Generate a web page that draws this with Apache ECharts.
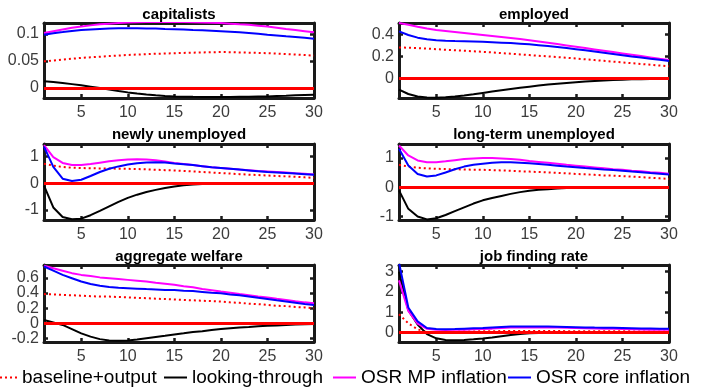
<!DOCTYPE html>
<html>
<head>
<meta charset="utf-8">
<script src="https://cdn.jsdelivr.net/npm/echarts@6/dist/echarts.min.js"></script>
<style>html,body{margin:0;padding:0;background:#fff;}#c{width:703px;height:388px;}</style>
</head>
<body>
<div id="c"></div>
<script>
// ---------- DATA ----------
const periods = [1,2,3,4,5,6,7,8,9,10,11,12,13,14,15,16,17,18,19,20,21,22,23,24,25,26,27,28,29,30];
const xTickLabels = [5,10,15,20,25,30];
const seriesNames = ['baseline+output','looking-through','OSR MP inflation','OSR core inflation'];
const panelTitles = ['capitalists','employed','newly unemployed','long-term unemployed','aggregate welfare','job finding rate'];
const zeroLevel = 0;

// y tick labels per panel
const capTicks = [0, 0.05, 0.1];
const empTicks = [0, 0.2, 0.4];
const newTicks = [-1, 0, 1];
const ltuTicks = [-1, 0, 1];
const welTicks = [-0.2, 0, 0.2, 0.4, 0.6];
const jfrTicks = [0, 1, 2, 3];

// y ranges per panel
const capRange = [-0.0185, 0.1204];
const empRange = [-0.176, 0.5];
const newRange = [-1.38, 1.47];
const ltuRange = [-1.12, 1.47];
const welRange = [-0.248, 0.772];
const jfrRange = [-0.47, 3.33];

// capitalists
const capBaseline = [0.0494,0.0510,0.0526,0.0542,0.0558,0.0569,0.0580,0.0591,0.0601,0.0612,0.0620,0.0627,0.0634,0.0639,0.0644,0.0650,0.0655,0.0659,0.0663,0.0666,0.0664,0.0659,0.0655,0.0650,0.0644,0.0637,0.0628,0.0620,0.0610,0.0601];
const capLooking  = [0.0124,0.0110,0.0092,0.0072,0.0049,0.0025,0.0,-0.0028,-0.0055,-0.0081,-0.0101,-0.0119,-0.0135,-0.0146,-0.0155,-0.0160,-0.0163,-0.0165,-0.0166,-0.0166,-0.0165,-0.0163,-0.0161,-0.0158,-0.0155,-0.0149,-0.0143,-0.0136,-0.0130,-0.0124];
const capOsrMp    = [0.1020,0.1053,0.1085,0.1117,0.1138,0.1160,0.1181,0.1192,0.1203,0.1214,0.1219,0.1224,0.1224,0.1224,0.1224,0.1222,0.1219,0.1214,0.1208,0.1203,0.1192,0.1181,0.1171,0.1155,0.1138,0.1117,0.1095,0.1074,0.1053,0.1031];
const capOsrCore  = [0.0988,0.1015,0.1036,0.1058,0.1074,0.1085,0.1095,0.1101,0.1106,0.1106,0.1106,0.1104,0.1101,0.1095,0.1090,0.1085,0.1074,0.1069,0.1061,0.1053,0.1042,0.1031,0.1020,0.1004,0.0988,0.0974,0.0959,0.0945,0.0929,0.0913];

// employed
const empBaseline = [0.280,0.277,0.273,0.269,0.264,0.259,0.255,0.250,0.245,0.240,0.235,0.229,0.223,0.217,0.211,0.205,0.199,0.193,0.187,0.180,0.173,0.166,0.159,0.152,0.145,0.138,0.131,0.124,0.117,0.110];
const empLooking  = [-0.100,-0.140,-0.162,-0.172,-0.174,-0.170,-0.163,-0.153,-0.142,-0.130,-0.118,-0.106,-0.095,-0.084,-0.074,-0.064,-0.055,-0.047,-0.040,-0.033,-0.027,-0.022,-0.018,-0.014,-0.011,-0.008,-0.006,-0.004,-0.003,-0.002];
const empOsrMp    = [0.500,0.485,0.467,0.450,0.437,0.428,0.419,0.410,0.401,0.392,0.383,0.374,0.365,0.355,0.345,0.334,0.322,0.310,0.298,0.286,0.274,0.262,0.250,0.238,0.226,0.214,0.202,0.190,0.178,0.167];
const empOsrCore  = [0.425,0.392,0.368,0.353,0.345,0.340,0.337,0.335,0.333,0.330,0.327,0.323,0.319,0.314,0.308,0.300,0.292,0.283,0.274,0.264,0.254,0.243,0.232,0.221,0.210,0.199,0.189,0.178,0.168,0.158];

// newly unemployed
const newBaseline = [0.73,0.66,0.61,0.58,0.57,0.56,0.555,0.55,0.545,0.54,0.53,0.52,0.505,0.49,0.48,0.46,0.44,0.42,0.40,0.38,0.36,0.34,0.32,0.305,0.29,0.27,0.255,0.24,0.22,0.20];
const newLooking  = [-0.09,-0.91,-1.27,-1.35,-1.33,-1.20,-1.04,-0.87,-0.70,-0.55,-0.43,-0.33,-0.25,-0.18,-0.12,-0.08,-0.05,-0.03,-0.015,-0.005,-0.002,0.0,0.0,0.0,0.0,0.0,0.0,0.0,0.0,0.0];
const newOsrMp    = [1.43,0.98,0.76,0.68,0.68,0.72,0.77,0.82,0.86,0.89,0.90,0.89,0.86,0.81,0.76,0.72,0.68,0.64,0.60,0.57,0.54,0.51,0.49,0.46,0.44,0.42,0.40,0.37,0.35,0.33];
const newOsrCore  = [1.37,0.61,0.17,0.08,0.13,0.27,0.42,0.54,0.63,0.70,0.75,0.78,0.79,0.78,0.74,0.71,0.68,0.64,0.60,0.57,0.54,0.51,0.48,0.45,0.42,0.40,0.38,0.36,0.34,0.32];

// long-term unemployed
const ltuBaseline = [0.76,0.70,0.66,0.64,0.625,0.615,0.61,0.60,0.595,0.59,0.58,0.57,0.555,0.54,0.53,0.515,0.50,0.485,0.47,0.45,0.435,0.42,0.40,0.39,0.375,0.36,0.34,0.32,0.30,0.28];
const ltuLooking  = [-0.11,-0.74,-1.00,-1.10,-1.06,-0.95,-0.82,-0.69,-0.56,-0.45,-0.37,-0.30,-0.23,-0.17,-0.12,-0.09,-0.07,-0.05,-0.03,-0.01,-0.005,0.0,0.0,0.0,0.0,0.0,0.0,0.0,0.0,0.0];
const ltuOsrMp    = [1.42,1.08,0.91,0.85,0.85,0.88,0.92,0.96,0.98,0.99,0.99,0.98,0.96,0.93,0.89,0.86,0.83,0.80,0.76,0.73,0.70,0.67,0.64,0.61,0.59,0.56,0.54,0.51,0.49,0.46];
const ltuOsrCore  = [1.31,0.74,0.45,0.36,0.40,0.50,0.61,0.70,0.76,0.80,0.83,0.85,0.85,0.83,0.81,0.79,0.76,0.73,0.70,0.68,0.65,0.63,0.60,0.58,0.56,0.53,0.51,0.48,0.46,0.43];

// aggregate welfare
const welBaseline = [0.387,0.382,0.376,0.371,0.365,0.359,0.354,0.354,0.348,0.343,0.337,0.332,0.326,0.321,0.315,0.310,0.304,0.299,0.293,0.288,0.277,0.271,0.260,0.254,0.243,0.232,0.227,0.216,0.210,0.199];
const welLooking  = [0.044,0.011,-0.022,-0.077,-0.133,-0.177,-0.210,-0.227,-0.232,-0.227,-0.216,-0.199,-0.182,-0.166,-0.149,-0.133,-0.116,-0.105,-0.088,-0.077,-0.066,-0.055,-0.050,-0.039,-0.033,-0.028,-0.022,-0.017,-0.013,-0.011];
const welOsrMp    = [0.763,0.730,0.697,0.664,0.641,0.625,0.608,0.597,0.586,0.575,0.564,0.553,0.536,0.525,0.509,0.492,0.476,0.453,0.437,0.420,0.404,0.387,0.371,0.354,0.343,0.326,0.310,0.293,0.277,0.265];
const welOsrCore  = [0.752,0.697,0.641,0.597,0.553,0.520,0.498,0.481,0.470,0.465,0.459,0.453,0.448,0.442,0.442,0.431,0.426,0.415,0.404,0.398,0.382,0.371,0.354,0.337,0.321,0.304,0.288,0.271,0.254,0.243];

// job finding rate
const jfrBaseline = [0.90,0.45,0.15,0.03,0.02,0.03,0.04,0.05,0.05,0.06,0.06,0.07,0.07,0.07,0.07,0.07,0.07,0.07,0.065,0.065,0.06,0.06,0.06,0.055,0.055,0.055,0.05,0.05,0.05,0.05];
const jfrLooking  = [3.00,1.10,0.39,-0.08,-0.29,-0.37,-0.38,-0.37,-0.34,-0.30,-0.25,-0.19,-0.13,-0.08,-0.04,-0.02,-0.01,0.0,0.0,0.0,0.0,0.0,0.0,0.0,0.0,0.0,0.0,0.0,0.0,0.0];
const jfrOsrMp    = [2.57,1.06,0.44,0.18,0.13,0.12,0.13,0.14,0.16,0.17,0.19,0.22,0.24,0.25,0.25,0.25,0.25,0.24,0.23,0.22,0.21,0.20,0.19,0.18,0.17,0.16,0.15,0.14,0.135,0.13];
const jfrOsrCore  = [3.45,1.23,0.55,0.22,0.17,0.16,0.17,0.19,0.21,0.22,0.25,0.27,0.29,0.30,0.30,0.30,0.29,0.28,0.27,0.26,0.25,0.24,0.235,0.23,0.22,0.21,0.20,0.195,0.19,0.18];

// ---------- BUILD ----------
const panelData = [
  {ticks: capTicks, range: capRange, s: [capBaseline, capLooking, capOsrMp, capOsrCore]},
  {ticks: empTicks, range: empRange, s: [empBaseline, empLooking, empOsrMp, empOsrCore]},
  {ticks: newTicks, range: newRange, s: [newBaseline, newLooking, newOsrMp, newOsrCore]},
  {ticks: ltuTicks, range: ltuRange, s: [ltuBaseline, ltuLooking, ltuOsrMp, ltuOsrCore]},
  {ticks: welTicks, range: welRange, s: [welBaseline, welLooking, welOsrMp, welOsrCore]},
  {ticks: jfrTicks, range: jfrRange, s: [jfrBaseline, jfrLooking, jfrOsrMp, jfrOsrCore]}
];

const colLeft = [44, 399];
const rowTop = [23, 144, 265];
const rowH = [75, 76, 77];
const gridW = 270;
const titleY = [15, 135, 257];

const FONT = 'Liberation Sans, Arial, sans-serif';
const boxColor = '#1a1a1a';
const labelColor = '#3c3c3c';

const styles = [
  {color: '#ff0000', width: 2, type: [2, 3]},
  {color: '#000000', width: 2, type: 'solid'},
  {color: '#ff00ff', width: 2, type: 'solid'},
  {color: '#0000ff', width: 2, type: 'solid'}
];

const grids = [], xAxes = [], yAxes = [], series = [], graphics = [];
panelData.forEach((p, i) => {
  const col = i % 2, row = Math.floor(i / 2);
  grids.push({left: colLeft[col], top: rowTop[row], width: gridW, height: rowH[row], containLabel: false});
  const axLine = {show: true, onZero: false, lineStyle: {color: boxColor, width: 3}};
  const tick = (vals) => ({show: true, inside: true, length: 4, interval: 0, customValues: vals, lineStyle: {color: boxColor, width: 2.5}});
  const yLabel = (vals) => ({customValues: vals, interval: 0, fontSize: 16, fontFamily: FONT, color: labelColor, margin: 5,
      hideOverlap: false, showMinLabel: true, showMaxLabel: true});
  const evenTicks = p.ticks.filter((v, j) => j % 2 === 0);
  const oddTicks = p.ticks.filter((v, j) => j % 2 === 1);
  xAxes.push({type: 'value', gridIndex: i, min: 1, max: 30, position: 'bottom',
    axisLine: axLine, axisTick: tick(xTickLabels), splitLine: {show: false},
    axisLabel: {customValues: xTickLabels, interval: 0, fontSize: 16, fontFamily: FONT, color: labelColor, margin: 7,
      hideOverlap: false, showMinLabel: true, showMaxLabel: true}});
  xAxes.push({type: 'value', gridIndex: i, min: 1, max: 30, position: 'top',
    axisLine: axLine, axisTick: tick(xTickLabels), splitLine: {show: false}, axisLabel: {show: false}});
  // main left axis (box edge, ticks, even labels)
  yAxes.push({type: 'value', gridIndex: i, min: p.range[0], max: p.range[1], position: 'left',
    axisLine: axLine, axisTick: tick(p.ticks), splitLine: {show: false}, axisLabel: yLabel(evenTicks)});
  // right axis (box edge and ticks)
  yAxes.push({type: 'value', gridIndex: i, min: p.range[0], max: p.range[1], position: 'right',
    axisLine: axLine, axisTick: tick(p.ticks), splitLine: {show: false}, axisLabel: {show: false}});
  // helper left axis carrying the remaining labels
  yAxes.push({type: 'value', gridIndex: i, min: p.range[0], max: p.range[1], position: 'left', offset: 0,
    axisLine: {show: false}, axisTick: {show: false}, splitLine: {show: false},
    axisLabel: oddTicks.length ? yLabel(oddTicks) : {show: false}});
  p.s.forEach((vals, k) => {
    const st = styles[k];
    const ser = {
      type: 'line', name: seriesNames[k], xAxisIndex: 2 * i, yAxisIndex: 3 * i,
      data: periods.map((x, j) => [x, vals[j]]),
      symbol: 'none', showSymbol: false, color: st.color, clip: true,
      lineStyle: {color: st.color, width: st.width, type: st.type},
      z: 2 + k
    };
    if (k === 3) {
      ser.markLine = {silent: true, symbol: 'none', label: {show: false},
        lineStyle: {color: '#ff0000', width: 3, type: 'solid'},
        data: [{yAxis: zeroLevel}]};
    }
    series.push(ser);
  });
  graphics.push({type: 'text', x: colLeft[col] + gridW / 2, y: titleY[row],
    style: {text: panelTitles[i], textAlign: 'center', textVerticalAlign: 'middle',
      fontSize: 15, fontWeight: 'bold', fontFamily: FONT, fill: '#000'}});
});

const legendPos = [
  {left: -1, w: 17},
  {left: 163, w: 23},
  {left: 332, w: 23},
  {left: 507, w: 23}
];
const legends = seriesNames.map((n, k) => ({
  data: [n], left: legendPos[k].left, top: 368, itemWidth: legendPos[k].w, itemHeight: 14,
  selectedMode: false, padding: 0,
  itemStyle: {opacity: 0},
  textStyle: {fontSize: 19, fontFamily: FONT, color: '#000'}
}));

const chart = echarts.init(document.getElementById('c'), null, {renderer: 'canvas'});
chart.setOption({
  animation: false,
  backgroundColor: '#ffffff',
  grid: grids, xAxis: xAxes, yAxis: yAxes, series: series,
  legend: legends, graphic: graphics
});
</script>
</body>
</html>
